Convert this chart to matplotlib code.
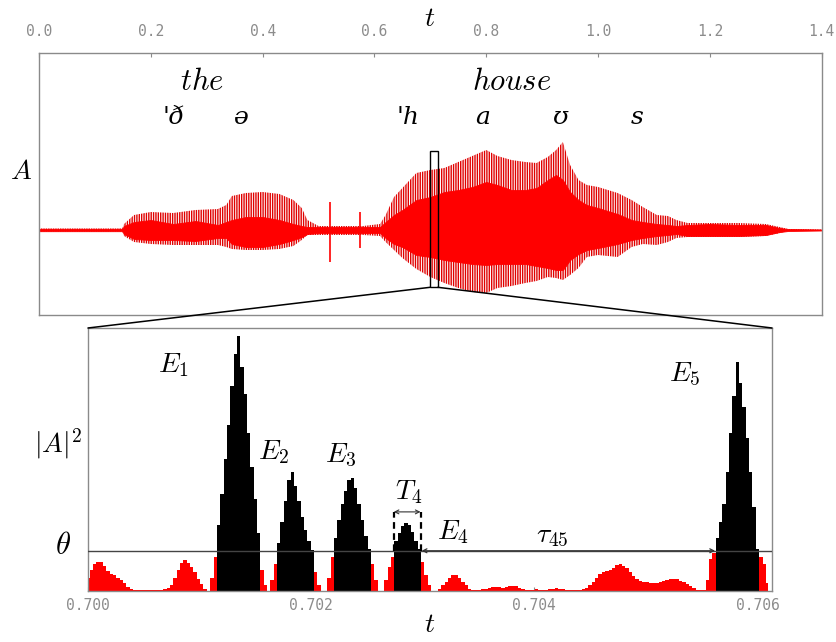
import numpy as np
import matplotlib
matplotlib.use("Agg")
import matplotlib.pyplot as plt
from matplotlib.patches import Rectangle, ConnectionPatch

plt.rcParams["mathtext.fontset"] = "cm"
plt.rcParams["hatch.linewidth"] = 1.0

W, H = 837, 642
RED = "#ff0000"
GRID = "#8a8a8a"
TICKC = "#8c8c8c"

# ---- top panel: waveform envelope ----
env_t = [0.00, 0.149, 0.152, 0.17, 0.20, 0.24, 0.28, 0.32, 0.335, 0.345, 0.37, 0.40,
         0.43, 0.455, 0.47, 0.48, 0.50, 0.52, 0.55, 0.58, 0.61, 0.62, 0.635, 0.65,
         0.675, 0.70, 0.725, 0.75, 0.775, 0.80, 0.82, 0.845, 0.87, 0.89, 0.91, 0.925,
         0.937, 0.95, 0.965, 0.98, 1.00, 1.035, 1.06, 1.08, 1.105, 1.125, 1.14, 1.16,
         1.20, 1.25, 1.30, 1.325, 1.34, 1.40]
env_hi = [0.015, 0.015, 0.06, 0.15, 0.18, 0.17, 0.20, 0.21, 0.25, 0.34, 0.37, 0.38,
          0.36, 0.30, 0.22, 0.10, 0.04, 0.04, 0.04, 0.04, 0.06, 0.15, 0.33, 0.42,
          0.57, 0.60, 0.62, 0.68, 0.74, 0.80, 0.74, 0.70, 0.68, 0.67, 0.73, 0.80,
          0.88, 0.65, 0.50, 0.45, 0.43, 0.37, 0.30, 0.23, 0.15, 0.14, 0.10, 0.07,
          0.07, 0.07, 0.06, 0.03, 0.01, 0.005]
env_lo = [-0.015, -0.015, -0.06, -0.12, -0.14, -0.15, -0.15, -0.15, -0.17, -0.19, -0.20, -0.20,
          -0.19, -0.16, -0.10, -0.05, -0.05, -0.05, -0.05, -0.05, -0.06, -0.12, -0.20, -0.28,
          -0.39, -0.47, -0.53, -0.58, -0.62, -0.63, -0.58, -0.56, -0.53, -0.51, -0.47, -0.48,
          -0.50, -0.45, -0.38, -0.27, -0.25, -0.27, -0.17, -0.14, -0.15, -0.12, -0.08, -0.07,
          -0.07, -0.07, -0.06, -0.03, -0.01, -0.005]
core_hi = [0.012, 0.012, 0.04, 0.08, 0.10, 0.06, 0.09, 0.05, 0.08, 0.10, 0.13, 0.13,
           0.10, 0.06, 0.04, 0.03, 0.03, 0.03, 0.03, 0.03, 0.03, 0.08, 0.15, 0.20,
           0.30, 0.33, 0.38, 0.40, 0.43, 0.48, 0.45, 0.40, 0.40, 0.42, 0.50, 0.55,
           0.50, 0.38, 0.30, 0.25, 0.22, 0.16, 0.10, 0.08, 0.06, 0.05, 0.04, 0.05,
           0.06, 0.05, 0.05, 0.02, 0.01, 0.005]
core_lo = [-0.012, -0.012, -0.04, -0.09, -0.10, -0.10, -0.11, -0.08, -0.08, -0.14, -0.17, -0.17,
           -0.14, -0.10, -0.07, -0.04, -0.03, -0.03, -0.03, -0.03, -0.03, -0.08, -0.14, -0.17,
           -0.25, -0.27, -0.30, -0.32, -0.34, -0.35, -0.34, -0.34, -0.34, -0.36, -0.38, -0.40,
           -0.40, -0.30, -0.24, -0.20, -0.18, -0.14, -0.10, -0.08, -0.06, -0.05, -0.04, -0.06,
           -0.06, -0.06, -0.05, -0.02, -0.01, -0.005]
click_t = [0.521, 0.575]
click_hi = [0.28, 0.18]
click_lo = [-0.32, -0.18]

word_text = [r"$the$", r"$house$"]
word_t = [0.292, 0.845]
phone_text = ["'ð", "ə", "'h", "a", "ʊ", "s"]
phone_t = [0.240, 0.360, 0.660, 0.793, 0.932, 1.070]
top_ticks = [0.0, 0.2, 0.4, 0.6, 0.8, 1.0, 1.2, 1.4]

# ---- bottom panel: |A|^2 samples, 0.700 s onward, 30 us apart ----
t0 = 0.700
dt = 0.00003
energy = [0.05, 0.08, 0.10, 0.11, 0.11, 0.095, 0.075, 0.065, 0.06, 0.05, 0.04, 0.03, 0.015, 0.005,
          0.004, 0.003, 0.003, 0.004, 0.004, 0.003, 0.003, 0.004, 0.004, 0.006, 0.01,
          0.02, 0.05, 0.08, 0.105, 0.115, 0.105, 0.09, 0.07, 0.045, 0.025, 0.005, 0.0,
          0.05, 0.13,
          0.25, 0.37, 0.50, 0.63, 0.78, 0.90, 0.97, 0.85, 0.75, 0.60, 0.47, 0.35, 0.22,
          0.08, 0.02, 0.0,
          0.04, 0.10,
          0.18, 0.26, 0.34, 0.42, 0.45, 0.40, 0.34, 0.28, 0.23, 0.19, 0.155,
          0.07, 0.02, 0.0, 0.0, 0.05,
          0.13,
          0.20, 0.27, 0.33, 0.38, 0.42, 0.43, 0.39, 0.33, 0.27, 0.21, 0.16,
          0.10, 0.04, 0.0, 0.0, 0.04, 0.09, 0.13,
          0.19, 0.22, 0.245, 0.258, 0.25, 0.225, 0.19, 0.16,
          0.11, 0.06, 0.02, 0.0,
          0.0, 0.005, 0.02, 0.035, 0.05, 0.058, 0.06, 0.05, 0.035, 0.02, 0.008,
          0.003, 0.002, 0.003, 0.005, 0.008, 0.012, 0.014, 0.014, 0.013, 0.012, 0.014, 0.016,
          0.018, 0.016, 0.012, 0.007, 0.004, 0.003, 0.004, 0.006, 0.004, 0.003, 0.004, 0.006,
          0.008, 0.009, 0.008, 0.006, 0.004, 0.003, 0.003, 0.003, 0.004, 0.006, 0.01,
          0.02, 0.035, 0.05, 0.062, 0.07, 0.075, 0.08, 0.088, 0.096, 0.10, 0.095, 0.085,
          0.07, 0.056, 0.045, 0.038, 0.034, 0.032, 0.03, 0.03, 0.031, 0.033, 0.037, 0.042,
          0.045, 0.046, 0.043, 0.038, 0.032, 0.025, 0.018, 0.01, 0.004, 0.001, 0.002,
          0.04, 0.12, 0.145,
          0.20, 0.26, 0.33, 0.45, 0.60, 0.74, 0.87, 0.79, 0.70, 0.58, 0.45, 0.32, 0.16,
          0.13, 0.10, 0.03]
theta = 0.152
bot_ticks = [0.700, 0.702, 0.704, 0.706]
peak_lbl = [r"$E_1$", r"$E_2$", r"$E_3$", r"$E_4$", r"$E_5$"]
peak_lbl_t = [0.700763, 0.701661, 0.702262, 0.703268, 0.705350]
peak_lbl_v = [0.859, 0.528, 0.517, 0.223, 0.825]
T4_span = [0.70274, 0.70298]
tau_span = [0.70299, 0.70562]


def fx(px):
    return px / W


def fy(py):
    return 1 - py / H


fig = plt.figure(figsize=(W / 100, H / 100), dpi=100)
ax1 = fig.add_axes([fx(39), fy(315), fx(821.7) - fx(39), fy(53.3) - fy(315)])
ax2 = fig.add_axes([fx(88), fy(590.7), fx(772) - fx(88), fy(328) - fy(590.7)])

# ── top: waveform ──
ax1.fill_between(env_t, env_lo, env_hi, facecolor="none", edgecolor="#e00000",
                 linewidth=0, hatch="|||||||")
ax1.fill_between(env_t, core_lo, core_hi, color=RED, linewidth=0.6)
ax1.vlines(click_t, click_lo, click_hi, color=RED, lw=1.2)
ax1.set_xlim(0, 1.4)
ax1.set_ylim(-0.85, 1.767)
ax1.add_patch(Rectangle((0.6997, -0.573), 0.0137, 1.363, fill=False, ec="black", lw=1.0, zorder=5))
for s, x in zip(word_text, word_t):
    ax1.text(x, 1.48, s, fontsize=22, ha="center", va="center")
for s, x in zip(phone_text, phone_t):
    ax1.text(x, 1.12, s, fontsize=18, ha="center", va="center",
             family=["DejaVu Serif"], style="italic")
ax1.xaxis.tick_top()
ax1.set_xticks(top_ticks)
ax1.set_xticklabels([f"{v:.1f}" for v in top_ticks], family="DejaVu Sans Mono",
                    fontsize=10.5, color=TICKC)
ax1.tick_params(axis="x", direction="in", length=3, color=GRID, pad=10)
ax1.set_yticks([])

# ── bottom: |A|^2 as a sampled staircase, black above theta, red below ──
t_s = t0 + dt * np.arange(len(energy))
e = np.array(energy)
e_hi = np.where(e >= theta, e, 0.0)
e_lo = np.where(e < theta, e, 0.0)
ax2.fill_between(t_s, 0, e_lo, step="mid", color=RED, linewidth=0, zorder=2)
ax2.fill_between(t_s, 0, e_hi, step="mid", color="black", linewidth=0, zorder=2)
ax2.axhline(theta, color="#444444", lw=1.0, zorder=3)
ax2.set_xlim(0.700, 0.70613)
ax2.set_ylim(0, 1.0)
ax2.set_xticks(bot_ticks)
ax2.set_xticklabels([f"{v:.3f}" for v in bot_ticks], family="DejaVu Sans Mono",
                    fontsize=10.5, color=TICKC)
ax2.tick_params(axis="x", direction="in", length=3, color=GRID, pad=5)
ax2.set_yticks([])

for s, x, v in zip(peak_lbl, peak_lbl_t, peak_lbl_v):
    ax2.text(x, v, s, fontsize=20, ha="center", va="center")
for x in T4_span:
    ax2.plot([x, x], [theta, 0.30], ls=(0, (3, 2)), color="black", lw=1.6, zorder=4)
ax2.annotate("", xy=(T4_span[0], 0.30), xytext=(T4_span[1], 0.30),
             arrowprops=dict(arrowstyle="<->", lw=0.8, color="#333", mutation_scale=7,
                             shrinkA=0, shrinkB=0))
ax2.text(0.702873, 0.376, r"$T_4$", fontsize=20, ha="center", va="center")
ax2.annotate("", xy=(tau_span[0], theta), xytext=(tau_span[1], theta),
             arrowprops=dict(arrowstyle="<->", lw=0.9, color="#333", mutation_scale=7,
                             shrinkA=0, shrinkB=0), zorder=4)
ax2.text(0.704165, 0.212, r"$\tau_{45}$", fontsize=20, ha="center", va="center")

for a in (ax1, ax2):
    for sp in a.spines.values():
        sp.set_color(GRID)
        sp.set_linewidth(1.0)

# zoom connectors
for xa, xb in ((0.6997, 0.0), (0.7134, 1.0)):
    con = ConnectionPatch(xyA=(xa, -0.573), coordsA=ax1.transData,
                          xyB=(xb, 1.0), coordsB=ax2.transAxes, color="black", lw=1.1)
    fig.add_artist(con)

# axis labels
fig.text(fx(430), fy(18), r"$t$", fontsize=20, ha="center", va="center")
fig.text(fx(430), fy(624), r"$t$", fontsize=20, ha="center", va="center")
fig.text(fx(21), fy(171), r"$A$", fontsize=20, ha="center", va="center")
fig.text(fx(58), fy(444), r"$|A|^2$", fontsize=20, ha="center", va="center")
fig.text(fx(63), fy(545), r"$\theta$", fontsize=22, ha="center", va="center")

fig.savefig("out.png", dpi=100)
